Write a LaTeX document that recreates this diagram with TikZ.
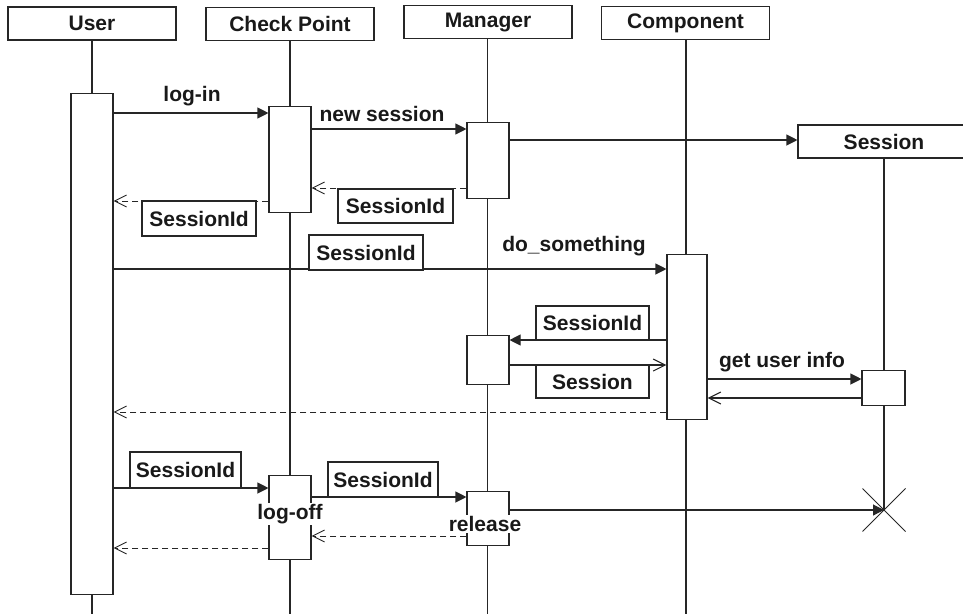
\documentclass[tikz,border=0pt]{standalone}
\usepackage{fontspec}
\setmainfont{Liberation Sans}
\usetikzlibrary{arrows.meta}
\begin{document}
\begin{tikzpicture}[x=1pt,y=-1pt,
  ink/.style={draw=black!85, line width=1.1pt},
  txt/.style={font=\fontsize{21}{24}\selectfont\bfseries, text=black!90},
  head/.style={ink, txt, fill=white, minimum width=168pt, minimum height=33pt, inner sep=0pt},
  act/.style={ink, fill=white, minimum width=42pt, inner sep=0pt, anchor=north},
  life/.style={ink},
  lbl/.style={ink, txt, fill=white, minimum width=114pt, minimum height=34pt, inner sep=0pt},
  note/.style={txt, inner sep=0pt},
  call/.style={ink, -{Triangle[length=11pt,width=11pt]}},
  back/.style={ink, -{Straight Barb[length=12pt,width=12pt]}},
  reply/.style={draw=black!85, line width=0.9pt, dash pattern=on 6pt off 4pt, -{Straight Barb[length=12pt,width=12pt,line width=0.9pt]}}
]
\useasboundingbox (0,0) rectangle (963,614);

% participants
\node[head] (user) at (92,23.5) {User};
\node[head] (chk)  at (290,24) {Check Point};
\node[head] (mgr)  at (488,22) {Manager};
\node[head] (comp) at (685.5,23) {Component};
\node[head, minimum width=176pt] (sess) at (886,141.5) {};
\node[txt] (sesst) at (884,141.5) {Session};

% bottom ends of the lifelines and the destruction point
\coordinate (ub) at (92,614);
\coordinate (cb) at (290,614);
\coordinate (mb) at (487.5,614);
\coordinate (kb) at (686,614);
\coordinate (xend) at (884,510);

% lifelines
\draw[life] (user.south) -- (ub);
\draw[life] (chk.south) -- (cb);
\draw[life] (mgr.south -| mb) -- (mb);
\draw[life] (comp.south -| kb) -- (kb);
\draw[life] (sess.south -| xend) -- (xend);

% activation bars
\node[act, minimum height=501pt] (ua)  at (92,93) {};
\node[act, minimum height=106pt] (cp1) at (290,106) {};
\node[act, minimum height=76pt]  (mg1) at (488,122) {};
\node[act, minimum height=165pt, minimum width=40pt] (co1) at (687,254) {};
\node[act, minimum height=49pt]  (mg2) at (488,335) {};
\node[act, minimum height=35pt, minimum width=43pt] (se1) at (883.5,370) {};
\node[act, minimum height=84pt]  (cp2) at (290,475) {};
\node[act, minimum height=54pt]  (mg3) at (488,491) {};

% message levels
\coordinate (y1) at (0,113);
\coordinate (y2) at (0,129);
\coordinate (y3) at (0,140);
\coordinate (y4) at (0,188);
\coordinate (y5) at (0,201);
\coordinate (y6) at (0,269);
\coordinate (y7) at (0,340);
\coordinate (y8) at (0,365);
\coordinate (y9) at (0,379);
\coordinate (y10) at (0,398);
\coordinate (y11) at (0,412);
\coordinate (y12) at (0,488);
\coordinate (y13) at (0,497);
\coordinate (y15) at (0,536);
\coordinate (y16) at (0,548);

% messages
\draw[call]  (ua.east |- y1) -- (cp1.west |- y1);
\draw[call]  (cp1.east |- y2) -- (mg1.west |- y2);
\draw[call]  (mg1.east |- y3) -- (sess.west |- y3);
\draw[reply] (mg1.west |- y4) -- (cp1.east |- y4);
\draw[reply] (cp1.west |- y5) -- (ua.east |- y5);
\draw[call]  (ua.east |- y6) -- (co1.west |- y6);
\draw[call]  (co1.west |- y7) -- (mg2.east |- y7);
\draw[back]  (mg2.east |- y8) -- (co1.west |- y8);
\draw[call]  (co1.east |- y9) -- (se1.west |- y9);
\draw[back]  (se1.west |- y10) -- (co1.east |- y10);
\draw[reply] (co1.west |- y11) -- (ua.east |- y11);
\draw[call]  (ua.east |- y12) -- (cp2.west |- y12);
\draw[call]  (cp2.east |- y13) -- (mg3.west |- y13);
\draw[call]  (mg3.east |- xend) -- (xend);
\draw[reply] (mg3.west |- y15) -- (cp2.east |- y15);
\draw[reply] (cp2.west |- y16) -- (ua.east |- y16);

% destruction mark
\draw[draw=black!85, line width=0.9pt] (xend) ++(-21.5,-21.5) -- ++(43,43);
\draw[draw=black!85, line width=0.9pt] (xend) ++(-21.5,21.5) -- ++(43,-43);

% message names
\node[note] (n1) at (192,96) {log-in};
\node[note] (n2) at (382,114) {new session};
\node[note] (n6) at (574,246) {do\_something};
\node[note] (n9) at (782,362) {get user info};
\node[note, fill=white, inner sep=1pt] (n13) at (290,514) {log-off};
\node[note, fill=white, inner sep=1pt] (n14) at (485,524) {release};

% argument boxes
\node[lbl, minimum width=115pt] (a4) at (395.5,206) {SessionId};
\node[lbl, minimum height=35pt] (a5) at (199,218.5) {SessionId};
\node[lbl, minimum height=35pt] (a6) at (366,252.5) {SessionId};
\node[lbl, minimum width=113pt] (a7) at (592.5,323) {SessionId};
\node[lbl, minimum width=113pt, minimum height=33pt] (a8) at (592.5,381.5) {Session};
\node[lbl, minimum width=111pt, minimum height=36pt] (a12) at (185.5,470) {SessionId};
\node[lbl, minimum width=110pt, minimum height=35pt] (a13) at (383,479.5) {SessionId};
\end{tikzpicture}
\end{document}
